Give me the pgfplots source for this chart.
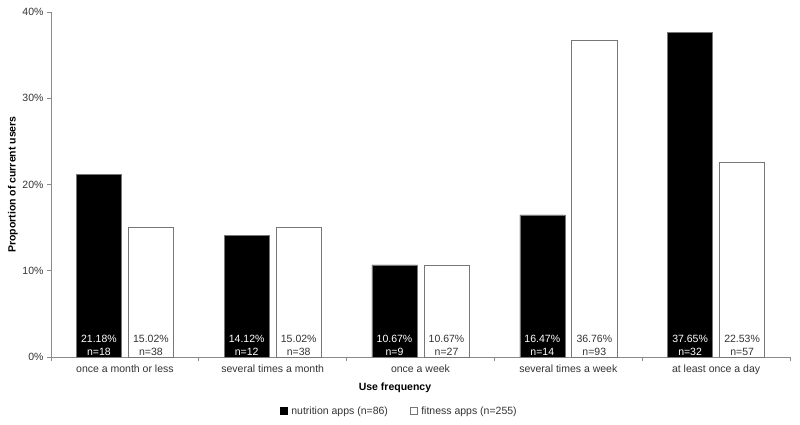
\documentclass[border=0pt]{standalone}
\usepackage{fontspec}
\setmainfont{Liberation Sans}
\usepackage{pgfplots}
\pgfplotsset{compat=1.18}
\definecolor{axgray}{HTML}{8A8A8A}
\definecolor{txt}{HTML}{333333}
\definecolor{barline}{HTML}{777777}
\newcommand{\chartfont}{\fontsize{10.5}{13}\selectfont}
\begin{document}
\begin{tikzpicture}
\begin{axis}[
    at={(51pt,67pt)}, anchor=south west,
    scale only axis, width=739pt, height=345pt,
    ybar, bar width=0.305,
    xmin=-0.5, xmax=4.5, ymin=0, ymax=40,
    axis lines*=left,
    axis line style={axgray, line width=0.7pt},
    tick align=outside,
    xtick={0,...,4},
    xticklabels={once a month or less, several times a month, once a week, several times a week, at least once a day},
    minor xtick={-0.5,0.5,...,4.5},
    major x tick style={draw=none},
    minor x tick style={axgray, line width=0.7pt},
    minor tick length=4pt,
    ytick={0,10,20,30,40},
    yticklabel={\pgfmathprintnumber{\tick}\%},
    ytick style={axgray, line width=0.7pt},
    major tick length=4pt,
    /pgf/number format/assume math mode=true,
    ticklabel style={font=\chartfont, text=txt},
    xlabel={Use frequency},
    ylabel={Proportion of current users},
    xlabel style={at={(axis description cs:0.4655,-0.0899)}, anchor=center, font=\chartfont\bfseries, text=black},
    ylabel style={at={(axis description cs:-0.0514,0.5)}, anchor=center, font=\chartfont\bfseries, text=black},
    legend columns=2,
    legend style={draw=none, at={(axis description cs:0.4715,-0.1565)}, anchor=center,
        font=\chartfont, text=txt,
        /tikz/every even column/.append style={column sep=20pt}},
    clip=false,
]

% nutrition apps
\addplot[fill=black, draw=barline, line width=0.5pt, bar shift=-0.176,
    legend image code/.code={\draw[fill=black, draw=black] (0pt,-3.5pt) rectangle (7pt,3.5pt);
        \path[draw=none, fill=none] (0pt,0pt) -- (9pt,0pt);}]
coordinates {(0,21.18) (1,14.12) (2,10.67) (3,16.47) (4,37.65)};
\addlegendentry{nutrition apps (n=86)}

% fitness apps
\addplot[fill=white, draw=barline, line width=0.6pt, bar shift=0.176,
    legend image code/.code={\draw[fill=white, draw=barline] (0pt,-3.5pt) rectangle (7pt,3.5pt);
        \path[draw=none, fill=none] (0pt,0pt) -- (9pt,0pt);}]
coordinates {(0,15.02) (1,15.02) (2,10.67) (3,36.76) (4,22.53)};
\addlegendentry{fitness apps (n=255)}

% labels inside the bars
\addplot[draw=none, fill=none, bar shift=-0.176, forget plot,
    point meta=explicit symbolic, nodes near coords,
    every node near coord/.append style={anchor=south, align=center, inner sep=1.5pt,
        text=white, font=\chartfont}]
coordinates {(0,0) [21.18\%\\n=18] (1,0) [14.12\%\\n=12] (2,0) [10.67\%\\n=9]
    (3,0) [16.47\%\\n=14] (4,0) [37.65\%\\n=32]};

\addplot[draw=none, fill=none, bar shift=0.176, forget plot,
    point meta=explicit symbolic, nodes near coords,
    every node near coord/.append style={anchor=south, align=center, inner sep=1.5pt,
        text=txt, font=\chartfont}]
coordinates {(0,0) [15.02\%\\n=38] (1,0) [15.02\%\\n=38] (2,0) [10.67\%\\n=27]
    (3,0) [36.76\%\\n=93] (4,0) [22.53\%\\n=57]};

\end{axis}
\pgfresetboundingbox
\path (0,0) rectangle (800pt,424pt);
\end{tikzpicture}
\end{document}
